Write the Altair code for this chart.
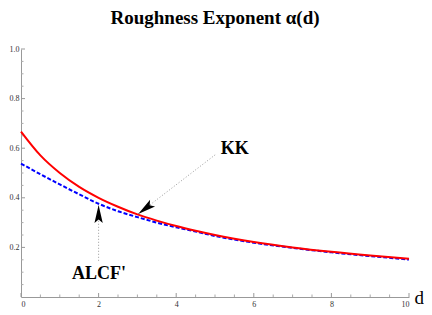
import altair as alt
import pandas as pd

# ---- data ----
d_vals = [0, 0.5, 1, 1.5, 2, 2.5, 3, 3.5, 4, 4.5, 5, 6, 7, 8, 9, 10]
kk_vals = [0.667, 0.571, 0.500, 0.444, 0.400, 0.364, 0.333, 0.308, 0.286,
           0.267, 0.250, 0.222, 0.200, 0.182, 0.167, 0.154]
alcf_vals = [0.538, 0.495, 0.454, 0.414, 0.376, 0.346, 0.322, 0.300, 0.281,
             0.264, 0.246, 0.219, 0.198, 0.180, 0.165, 0.151]

x_major = [0, 2, 4, 6, 8, 10]
x_minor = [0.5, 1, 1.5, 2.5, 3, 3.5, 4.5, 5, 5.5, 6.5, 7, 7.5, 8.5, 9, 9.5]
y_major = [0.2, 0.4, 0.6, 0.8, 1.0]
y_minor = [0.05, 0.1, 0.15, 0.25, 0.3, 0.35, 0.45, 0.5, 0.55, 0.65, 0.7, 0.75,
           0.85, 0.9, 0.95]

title_text = "Roughness Exponent α(d)"
label_text = ["KK", "ALCF'"]
label_d = [5.51, 2.01]
label_a = [0.575, 0.071]
# annotation arrows: (start d, start a) -> (tip d, tip a)
kk_arrow_d = [5.01, 3.02]
kk_arrow_a = [0.574, 0.335]
alcf_arrow_d = [2.0, 2.0]
alcf_arrow_a = [0.146, 0.371]

W, H = 388, 248
SERIF = "'Liberation Serif', 'Times New Roman', Times, serif"

curves = pd.DataFrame({"d": d_vals, "KK": kk_vals, "ALCF": alcf_vals})
xs = alt.Scale(domain=[0, 10], nice=False)
ys = alt.Scale(domain=[0, 1.0], nice=False)

base = alt.Chart(curves)

x_axis = alt.Axis(values=x_major, format="d", ticks=False, grid=False,
                  labelPadding=3, title="d", titleFont=SERIF, titleFontSize=19,
                  titleFontWeight="normal", titleColor="black",
                  titleX=W + 5, titleY=6, titleAlign="left",
                  titleBaseline="alphabetic", titleAngle=0)
y_axis = alt.Axis(values=y_major, format=".1f", ticks=False, grid=False,
                  labelPadding=2, title=None)

alcf_line = base.mark_line(color="#0000ff", strokeWidth=2, strokeDash=[4, 2],
                           interpolate="monotone").encode(
    x=alt.X("d:Q", scale=xs, axis=x_axis),
    y=alt.Y("ALCF:Q", scale=ys, axis=y_axis),
)
kk_line = base.mark_line(color="#ff0000", strokeWidth=2,
                         interpolate="monotone").encode(
    x=alt.X("d:Q", scale=xs),
    y=alt.Y("KK:Q", scale=ys),
)

# inward ticks (Mathematica style)
xmaj = alt.Chart(pd.DataFrame({"v": x_major})).mark_rule(color="#999", strokeWidth=1).encode(
    x=alt.X("v:Q", scale=xs), y=alt.value(H), y2=alt.value(H - 4))
xmin = alt.Chart(pd.DataFrame({"v": x_minor})).mark_rule(color="#aaa", strokeWidth=1).encode(
    x=alt.X("v:Q", scale=xs), y=alt.value(H), y2=alt.value(H - 2.5))
ymaj = alt.Chart(pd.DataFrame({"v": y_major})).mark_rule(color="#999", strokeWidth=1).encode(
    y=alt.Y("v:Q", scale=ys), x=alt.value(0), x2=alt.value(4))
ymin = alt.Chart(pd.DataFrame({"v": y_minor})).mark_rule(color="#aaa", strokeWidth=1).encode(
    y=alt.Y("v:Q", scale=ys), x=alt.value(0), x2=alt.value(2.5))

kk_dots = alt.Chart(pd.DataFrame({"d": kk_arrow_d, "a": kk_arrow_a})).mark_line(
    color="#999", strokeWidth=1, strokeDash=[1, 2]).encode(
    x=alt.X("d:Q", scale=xs), y=alt.Y("a:Q", scale=ys))
alcf_dots = alt.Chart(pd.DataFrame({"d": alcf_arrow_d, "a": alcf_arrow_a})).mark_line(
    color="#999", strokeWidth=1, strokeDash=[1, 2]).encode(
    x=alt.X("d:Q", scale=xs), y=alt.Y("a:Q", scale=ys))

DART = "M0,-1 L0.46,1 L0,0.6 L-0.46,1 Z"
kk_head = alt.Chart(pd.DataFrame({"d": [kk_arrow_d[1]], "a": [kk_arrow_a[1]]})).mark_point(
    shape=DART, filled=True, color="black", opacity=1, size=324, angle=233,
    xOffset=7.2, yOffset=-5.4).encode(
    x=alt.X("d:Q", scale=xs), y=alt.Y("a:Q", scale=ys))
alcf_head = alt.Chart(pd.DataFrame({"d": [alcf_arrow_d[1]], "a": [alcf_arrow_a[1]]})).mark_point(
    shape=DART, filled=True, color="black", opacity=1, size=324, angle=0,
    yOffset=9).encode(
    x=alt.X("d:Q", scale=xs), y=alt.Y("a:Q", scale=ys))

labels = alt.Chart(pd.DataFrame({"d": label_d, "a": label_a, "t": label_text})).mark_text(
    font=SERIF, fontSize=18, fontWeight="bold", color="black",
    align="center", baseline="alphabetic").encode(
    x=alt.X("d:Q", scale=xs), y=alt.Y("a:Q", scale=ys), text="t:N")

title = alt.Chart(pd.DataFrame({"t": [title_text]})).mark_text(
    font=SERIF, fontSize=19, fontWeight="bold", color="black",
    align="center", baseline="alphabetic").encode(
    x=alt.value(W / 2), y=alt.value(-25), text="t:N")

chart = alt.layer(
    xmin, xmaj, ymin, ymaj, alcf_line, kk_line,
    kk_dots, alcf_dots, kk_head, alcf_head, labels, title
).properties(
    width=W, height=H,
    autosize=alt.AutoSizeParams(type="none"),
    padding={"left": 13, "top": 41, "right": 15, "bottom": 10},
).configure_view(stroke=None).configure_axis(
    labelFont=SERIF, labelFontSize=8, labelColor="#333",
    domainColor="#999", domainWidth=1,
)

chart.save("out.html", embed_options={"renderer": "svg", "actions": False})
